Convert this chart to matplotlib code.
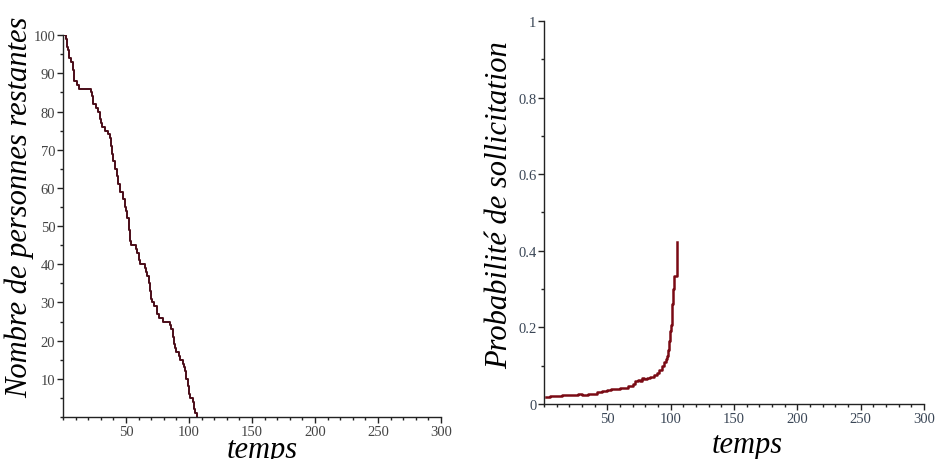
import numpy as np
import matplotlib
matplotlib.use('Agg')
import matplotlib.pyplot as plt
from matplotlib.ticker import MultipleLocator

# nombre de personnes restantes (escalier)
tN=[0,2,3,4,5,6,8,9,11,13,21,22,23,24,26,28,29,30,31,33,35,36,37,38,39,40,41,
    43,44,45,47,48,49,50,51,52,53,54,57,58,59,60,61,64,65,66,67,68,69,70,71,72,
    74,75,76,78,79,84,85,86,87,88,89,90,92,93,95,96,97,98,99,100,101,103,104,105,106]
N=[100,99,97,96,94,93,91,88,87,86,86,85,84,82,81,80,78,77,76,75,75,74,73,71,69,67,65,
   63,61,59,59,57,55,54,52,49,46,45,45,44,43,41,40,40,39,38,37,35,33,31,30,29,
   29,27,26,26,25,25,24,23,21,19,18,17,16,15,14,13,12,10,8,6,5,4,2,1,0]

# probabilite de sollicitation
tP=[1.5,3,5,7,9,11,14,20,27,30,35,39,42,46,50,53,56,60,63,66,68,70,72,74,76,77,
    79,81,84,87,89,91,93,95,96,97,98,99,99.5,100,100.7,101.3,102,102.5,104.6,105,105.2]
P=[0.017,0.019,0.022,0.021,0.020,0.021,0.024,0.024,0.025,0.024,0.026,0.027,0.030,0.033,
   0.036,0.038,0.040,0.041,0.043,0.046,0.048,0.052,0.059,0.063,0.060,0.068,
   0.066,0.067,0.070,0.076,0.082,0.090,0.100,0.110,0.118,0.125,0.140,0.165,0.190,0.205,
   0.240,0.260,0.300,0.335,0.335,0.380,0.424]

fig=plt.figure(figsize=(9.36,4.6),dpi=100)
ax1=fig.add_axes([0.0673,0.0913,0.4038,0.830])
ax2=fig.add_axes([0.5812,0.1196,0.406,0.8326])

def style(ax,col):
    for s in ['top','right']:
        ax.spines[s].set_visible(False)
    for s in ['left','bottom']:
        ax.spines[s].set_color('#222222')
        ax.spines[s].set_linewidth(1.0)
    ax.xaxis.set_major_locator(MultipleLocator(50))
    ax.xaxis.set_minor_locator(MultipleLocator(10))
    ax.tick_params(which='major',direction='out',length=4,width=1,color='#222222',
                   labelsize=10.5,labelcolor=col,pad=1.5)
    ax.tick_params(which='minor',direction='out',length=2.5,width=1,color='#222222')

ax1.plot(tN,N,drawstyle='steps-post',color='#4a0c18',lw=1.4)
ax1.set_xlim(0,300)
ax1.set_ylim(0,100)
ax1.yaxis.set_major_locator(MultipleLocator(10))
ax1.yaxis.set_minor_locator(MultipleLocator(5))
style(ax1,'#444444')
ax1.set_xticks([50,100,150,200,250,300])
ax1.set_yticks(range(10,101,10))
for lab in ax1.get_xticklabels()+ax1.get_yticklabels():
    lab.set_family('Liberation Serif')
ax1.set_ylabel('Nombre de personnes restantes',family='Liberation Serif',style='italic',
               fontsize=22,va='center')
ax1.yaxis.set_label_coords(-0.114,0.552)
ax1.set_xlabel('temps',family='Liberation Serif',style='italic',fontsize=22)
ax1.xaxis.set_label_coords(0.526,-0.046)
ax1.xaxis.label.set_va('top')

ax2.plot(tP,P,drawstyle='steps-post',color='#7a0a14',lw=1.8)
ax2.set_xlim(0,300)
ax2.set_ylim(0,1)
ax2.yaxis.set_major_locator(MultipleLocator(0.2))
ax2.yaxis.set_minor_locator(MultipleLocator(0.1))
style(ax2,'#3a4656')
ax2.set_xticks([50,100,150,200,250,300])
ax2.set_yticks([0,0.2,0.4,0.6,0.8,1])
ax2.set_yticklabels(['0','0.2','0.4','0.6','0.8','1'])
for lab in ax2.get_xticklabels()+ax2.get_yticklabels():
    lab.set_family('Liberation Serif')
ax2.set_ylabel('Probabilité de sollicitation',family='Liberation Serif',style='italic',
               fontsize=22,va='center')
ax2.yaxis.set_label_coords(-0.116,0.522)
ax2.set_xlabel('temps',family='Liberation Serif',style='italic',fontsize=22)
ax2.xaxis.set_label_coords(0.534,-0.068)
ax2.xaxis.label.set_va('top')

fig.savefig('out.png',dpi=100)
